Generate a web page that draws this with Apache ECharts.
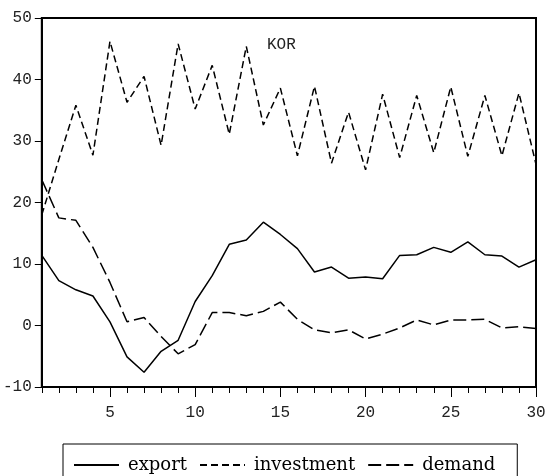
<!DOCTYPE html>
<html>
<head>
<meta charset="utf-8">
<script src="https://cdn.jsdelivr.net/npm/echarts@6/dist/echarts.min.js"></script>
<style>
html,body{margin:0;padding:0;background:#fff;}
#chart{width:549px;height:476px;}
</style>
</head>
<body>
<div id="chart"></div>
<script>
const periods = Array.from({length: 30}, (_, i) => String(i + 1));
const exportVals = [11.4, 7.3, 5.8, 4.8, 0.6, -5.1, -7.6, -4.2, -2.4, 3.9, 8.1, 13.2, 13.9, 16.8, 14.8, 12.5, 8.7, 9.5, 7.7, 7.9, 7.6, 11.4, 11.5, 12.7, 11.9, 13.6, 11.5, 11.3, 9.5, 10.7];
const investmentVals = [18.0, 27.0, 35.8, 27.7, 46.2, 36.3, 40.5, 29.3, 45.8, 35.2, 42.3, 31.1, 45.4, 32.6, 38.6, 27.6, 38.9, 26.4, 34.7, 25.3, 37.6, 27.3, 37.4, 28.1, 38.8, 27.5, 37.4, 27.6, 37.8, 26.2];
const demandVals = [23.7, 17.5, 17.1, 12.7, 7.0, 0.6, 1.3, -1.8, -4.6, -3.1, 2.1, 2.1, 1.6, 2.3, 3.8, 1.0, -0.7, -1.2, -0.7, -2.2, -1.4, -0.4, 0.9, 0.1, 0.9, 0.9, 1.0, -0.4, -0.2, -0.5];
const seriesNames = ['export', 'investment', 'demand'];
const titleText = 'KOR';

const chart = echarts.init(document.getElementById('chart'), null, {renderer: 'canvas'});
const monoFont = '"Liberation Mono", "DejaVu Sans Mono", monospace';
const option = {
  animation: false,
  backgroundColor: '#fff',
  title: {
    text: titleText,
    left: 267, top: 37, padding: 0,
    textStyle: {fontFamily: monoFont, fontSize: 16, fontWeight: 'normal', color: '#222'}
  },
  legend: {
    data: seriesNames,
    left: 63, top: 444,
    orient: 'horizontal',
    padding: [12, 22, 20, 10],
    itemWidth: 45, itemHeight: 14, itemGap: 12,
    borderColor: '#000', borderWidth: 1,
    itemStyle: {opacity: 0},
    textStyle: {fontFamily: '"DejaVu Serif", serif', fontSize: 18, color: '#000', padding: [0, 0, 0, 4]}
  },
  grid: {
    left: 41, top: 18, right: 13, bottom: 89,
    show: true, borderColor: '#000', borderWidth: 2, backgroundColor: 'transparent'
  },
  xAxis: [{
    type: 'category', data: periods, boundaryGap: false, position: 'bottom',
    axisLine: {show: true, onZero: false, lineStyle: {color: '#000', width: 2}},
    axisTick: {show: true, interval: 0, length: 6, lineStyle: {color: '#000', width: 1}},
    axisLabel: {
      interval: (idx) => (idx + 1) % 5 === 0,
      margin: 18, fontFamily: monoFont, fontSize: 16, color: '#222'
    },
    splitLine: {show: false}
  }, {
    type: 'category', data: periods, boundaryGap: false, position: 'bottom',
    axisLine: {show: false, onZero: false},
    axisTick: {show: true, interval: (idx) => (idx + 1) % 5 === 0, length: 10, lineStyle: {color: '#000', width: 1}},
    axisLabel: {show: false},
    splitLine: {show: false}
  }],
  yAxis: {
    type: 'value', min: -10, max: 50, interval: 10,
    axisLine: {show: true, lineStyle: {color: '#000', width: 2}},
    axisTick: {show: true, length: 7, lineStyle: {color: '#000', width: 1}},
    axisLabel: {margin: 10, fontFamily: monoFont, fontSize: 16, color: '#222'},
    splitLine: {show: false}
  },
  series: [{
    name: seriesNames[0], type: 'line', data: exportVals, xAxisIndex: 0,
    symbol: 'none', lineStyle: {color: '#000', width: 1.5, type: 'solid'},
    itemStyle: {color: '#000'}
  }, {
    name: seriesNames[1], type: 'line', data: investmentVals, xAxisIndex: 0,
    symbol: 'none', lineStyle: {color: '#000', width: 1.5, type: [7, 4]},
    itemStyle: {color: '#000'}
  }, {
    name: seriesNames[2], type: 'line', data: demandVals, xAxisIndex: 0,
    symbol: 'none', lineStyle: {color: '#000', width: 1.5, type: [13, 5]},
    itemStyle: {color: '#000'}
  }]
};
chart.setOption(option);
</script>
</body>
</html>
